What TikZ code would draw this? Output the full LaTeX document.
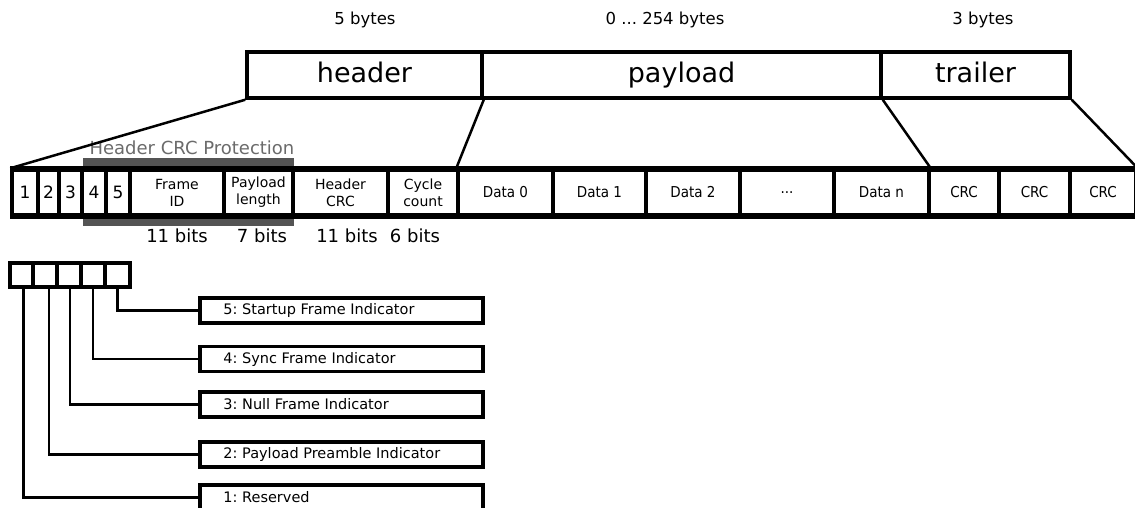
\documentclass[tikz,border=0pt]{standalone}
\usepackage{fontspec}
\setmainfont{DejaVu Sans}
\newfontfamily\condfont{DejaVu Sans Condensed}
\frenchspacing
\begin{document}
\begin{tikzpicture}[x=1pt,y=-1pt,
  topbox/.style={draw,line width=3.5pt,inner sep=0pt,minimum height=46pt,text height=20pt,text depth=5pt,font=\fontsize{27}{30}\selectfont},
  cell/.style={draw,line width=3.5pt,fill=white,inner sep=0pt,minimum height=45pt,font=\fontsize{14}{17}\selectfont,align=center},
  numcell/.style={cell,font=\fontsize{17}{19}\selectfont},
  datacell/.style={cell,font=\condfont\fontsize{15}{17}\selectfont},
  bytes/.style={font=\fontsize{16.5}{18}\selectfont,inner sep=0pt},
  bits/.style={font=\fontsize{18}{20}\selectfont,inner sep=0pt},
  bitbox/.style={draw,line width=3.5pt,inner sep=0pt,minimum width=24pt,minimum height=24pt},
  flagbox/.style={draw,line width=3.5pt,inner xsep=0pt,inner ysep=0pt,minimum width=283pt,minimum height=25pt},
  flagtext/.style={anchor=west,inner sep=0pt,font=\fontsize{14.5}{16}\selectfont},
  link/.style={line width=2.5pt},
  lead/.style={line width=2.5pt}
]
\useasboundingbox (0,0) rectangle (1135,508);

% byte counts
\node[bytes] (b5) at (365,20) {5 bytes};
\node[bytes] (b254) at (665,20) {0 ... 254 bytes};
\node[bytes] (b3) at (983,20) {3 bytes};

% top frame
\node[topbox,minimum width=235pt] (hdr) at (364.5,75) {header};
\node[topbox,minimum width=399pt] (pay) at (681.5,75) {payload};
\node[topbox,minimum width=189pt] (trl) at (975.5,75) {trailer};

% header CRC protection bar
\fill[fill=black!67] (83,158) rectangle (294,226);
\node[font=\fontsize{18}{20}\selectfont,text=black!58,inner sep=0pt] (hcp) at (192,148) {Header CRC Protection};

% frame row
\node[numcell,minimum width=26pt] (c1) at (25,192.5) {1};
\node[numcell,minimum width=21pt] (c2) at (48.5,192.5) {2};
\node[numcell,minimum width=23pt] (c3) at (70.5,192.5) {3};
\node[numcell,minimum width=24pt] (c4) at (94,192.5) {4};
\node[numcell,minimum width=24pt] (c5) at (118,192.5) {5};
\node[cell,minimum width=94pt] (fid) at (177,192.5) {Frame\\ID};
\node[cell,minimum width=69pt] (plen) at (258.5,192.5) {Payload\\length};
\node[cell,minimum width=95pt] (hcrc) at (340.5,192.5) {Header\\CRC};
\node[cell,minimum width=70pt] (cyc) at (423,192.5) {Cycle\\count};
\node[datacell,minimum width=95pt] (d0) at (505.5,192.5) {Data 0};
\node[datacell,minimum width=93pt] (d1) at (599.5,192.5) {Data 1};
\node[datacell,minimum width=94pt] (d2) at (693,192.5) {Data 2};
\node[datacell,minimum width=94pt] (dd) at (787,192.5) {...};
\node[datacell,minimum width=95pt] (dn) at (881.5,192.5) {Data n};
\node[datacell,minimum width=70pt] (crc1) at (964,192.5) {CRC};
\node[datacell,minimum width=71pt] (crc2) at (1034.5,192.5) {CRC};
\node[datacell,minimum width=66pt] (crc3) at (1103,192.5) {CRC};
\draw[line width=5pt] (c1.north west) -- (crc3.north east);
\draw[line width=5pt] (c1.south west) -- (crc3.south east);

% bit widths
\node[bits] (w1) at (177,236) {11 bits};
\node[bits] (w2) at (262,236) {7 bits};
\node[bits] (w3) at (347,236) {11 bits};
\node[bits] (w4) at (415,236) {6 bits};

% expansion lines
\draw[link] (hdr.south west) -- (c1.north west);
\draw[link] (hdr.south east) -- (d0.north west);
\draw[link] (pay.south east) -- (dn.north east);
\draw[link] (trl.south east) -- (crc3.north east);

% flag bits
\node[bitbox,minimum width=23pt] (f1) at (21.5,275) {};
\node[bitbox] (f2) at (45,275) {};
\node[bitbox] (f3) at (69,275) {};
\node[bitbox] (f4) at (93,275) {};
\node[bitbox,minimum width=25pt] (f5) at (117.5,275) {};

\node[flagbox] (l5) at (341.5,310.5) {};
\node[flagbox] (l4) at (341.5,359) {};
\node[flagbox] (l3) at (341.5,404.5) {};
\node[flagbox] (l2) at (341.5,454.5) {};
\node[flagbox] (l1) at (341.5,497.5) {};
\node[flagtext] (t5) at ([xshift=25pt]l5.west) {5: Startup Frame Indicator};
\node[flagtext] (t4) at ([xshift=25pt]l4.west) {4: Sync Frame Indicator};
\node[flagtext] (t3) at ([xshift=25pt]l3.west) {3: Null Frame Indicator};
\node[flagtext] (t2) at ([xshift=25pt]l2.west) {2: Payload Preamble Indicator};
\node[flagtext] (t1) at ([xshift=25pt]l1.west) {1: Reserved};

\draw[lead] ([xshift=2pt]f1.south) |- (l1.west);
\draw[lead] ([xshift=4pt]f2.south) |- (l2.west);
\draw[lead] ([xshift=1pt]f3.south) |- (l3.west);
\draw[lead] (f4.south) |- (l4.west);
\draw[lead] (f5.south) |- (l5.west);
\end{tikzpicture}
\end{document}
